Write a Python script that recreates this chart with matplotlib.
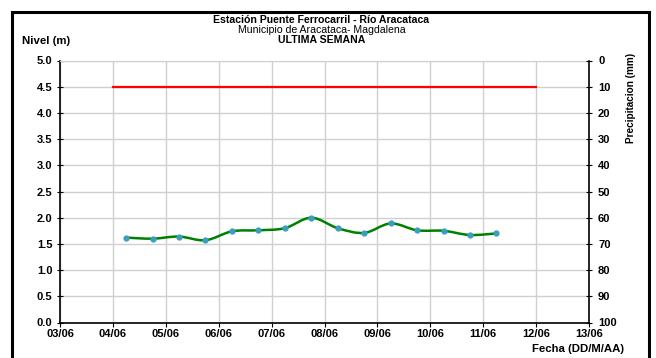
import matplotlib.pyplot as plt
import matplotlib.dates as mdates
from matplotlib.path import Path
from matplotlib.patches import PathPatch, Rectangle
import datetime as dt

plt.rcParams['font.family'] = ['Liberation Sans', 'DejaVu Sans']

# nivel cada 12 horas, desde 04/06 06:00
fechas = [dt.datetime(2023, 6, 4, 6) + dt.timedelta(hours=12 * i) for i in range(15)]
nivel = [1.62, 1.60, 1.64, 1.57, 1.74, 1.76, 1.80, 2.00, 1.80, 1.71, 1.89, 1.76, 1.75, 1.67, 1.70]

# linea de alerta
alerta_fechas = [dt.datetime(2023, 6, 4), dt.datetime(2023, 6, 12)]
alerta = [4.5, 4.5]

x_ini = dt.datetime(2023, 6, 3)
x_fin = dt.datetime(2023, 6, 13)

fig = plt.figure(figsize=(6.56, 3.58), dpi=100)
ax = fig.add_axes([60 / 656, 1 - 322.5 / 358, 529 / 656, 262 / 358])

ax.plot(alerta_fechas, alerta, color='#ff0000', lw=1.6, zorder=3)

# linea suavizada (bezier tipo Excel) a traves de los puntos
xs = mdates.date2num(fechas)
ys = nivel
verts = [(xs[0], ys[0])]
codes = [Path.MOVETO]
n = len(xs)
t = 1 / 6
for i in range(n - 1):
    x0, y0 = (xs[i - 1], ys[i - 1]) if i > 0 else (xs[i], ys[i])
    x1, y1 = xs[i], ys[i]
    x2, y2 = xs[i + 1], ys[i + 1]
    x3, y3 = (xs[i + 2], ys[i + 2]) if i + 2 < n else (x2, y2)
    verts += [(x1 + (x2 - x0) * t, y1 + (y2 - y0) * t),
              (x2 - (x3 - x1) * t, y2 - (y3 - y1) * t),
              (x2, y2)]
    codes += [Path.CURVE4] * 3
ax.add_patch(PathPatch(Path(verts, codes), fill=False, edgecolor='#008000', lw=1.8, zorder=4))
ax.plot(fechas, nivel, ls='none', marker='o', ms=3.5, mfc='#3a9fbf', mec='#3a9fbf', zorder=5)

ax.set_xlim(x_ini, x_fin)
ax.set_ylim(0, 5)
ax.set_yticks([i * 0.5 for i in range(11)])
ax.yaxis.set_major_formatter(plt.FormatStrFormatter('%.1f'))
ax.xaxis.set_major_locator(mdates.DayLocator())
ax.xaxis.set_major_formatter(mdates.DateFormatter('%d/%m'))
ax.grid(True, color='#d0d0d0', lw=1)
ax.set_axisbelow(True)
for s in ['left', 'bottom', 'right']:
    ax.spines[s].set_color('black')
    ax.spines[s].set_linewidth(1.2)
ax.spines['top'].set_color('#d0d0d0')
ax.tick_params(axis='both', labelsize=8, direction='inout', length=5, width=0.8, pad=3)
ax.tick_params(axis='x', direction='out', length=3, pad=2)
for lab in ax.get_xticklabels() + ax.get_yticklabels():
    lab.set_fontweight('bold')

ax2 = ax.twinx()
ax2.set_ylim(100, 0)
ax2.set_yticks(range(0, 101, 10))
ax2.tick_params(axis='y', labelsize=8, direction='inout', length=5, width=0.8, pad=4)
for lab in ax2.get_yticklabels():
    lab.set_fontweight('bold')
for s in ax2.spines.values():
    s.set_visible(False)

fig.text(631 / 656, 1 - 53 / 358, 'Precipitacion (mm)', rotation=90, ha='center', va='top',
         fontsize=7.2, fontweight='bold')
fig.text(0.49, 1 - 20 / 358, 'Estación Puente Ferrocarril - Río Aracataca', ha='center', va='center',
         fontsize=7.6, fontweight='bold')
fig.text(0.49, 1 - 30 / 358, 'Municipio de Aracataca- Magdalena', ha='center', va='center', fontsize=7.6)
fig.text(0.49, 1 - 40 / 358, 'ULTIMA SEMANA', ha='center', va='center', fontsize=7.6, fontweight='bold')
fig.text(22 / 656, 1 - 41 / 358, 'Nivel (m)', ha='left', va='center', fontsize=8.2, fontweight='bold')
fig.text(624 / 656, 1 - 349 / 358, 'Fecha (DD/M/AA)', ha='right', va='center', fontsize=8.2, fontweight='bold')

fig.patches.append(Rectangle((11.5 / 656, -0.05), 637 / 656, 1.05 - 11.5 / 358, transform=fig.transFigure,
                             fill=False, edgecolor='black', lw=2.2))

fig.savefig('out.png', dpi=100)
